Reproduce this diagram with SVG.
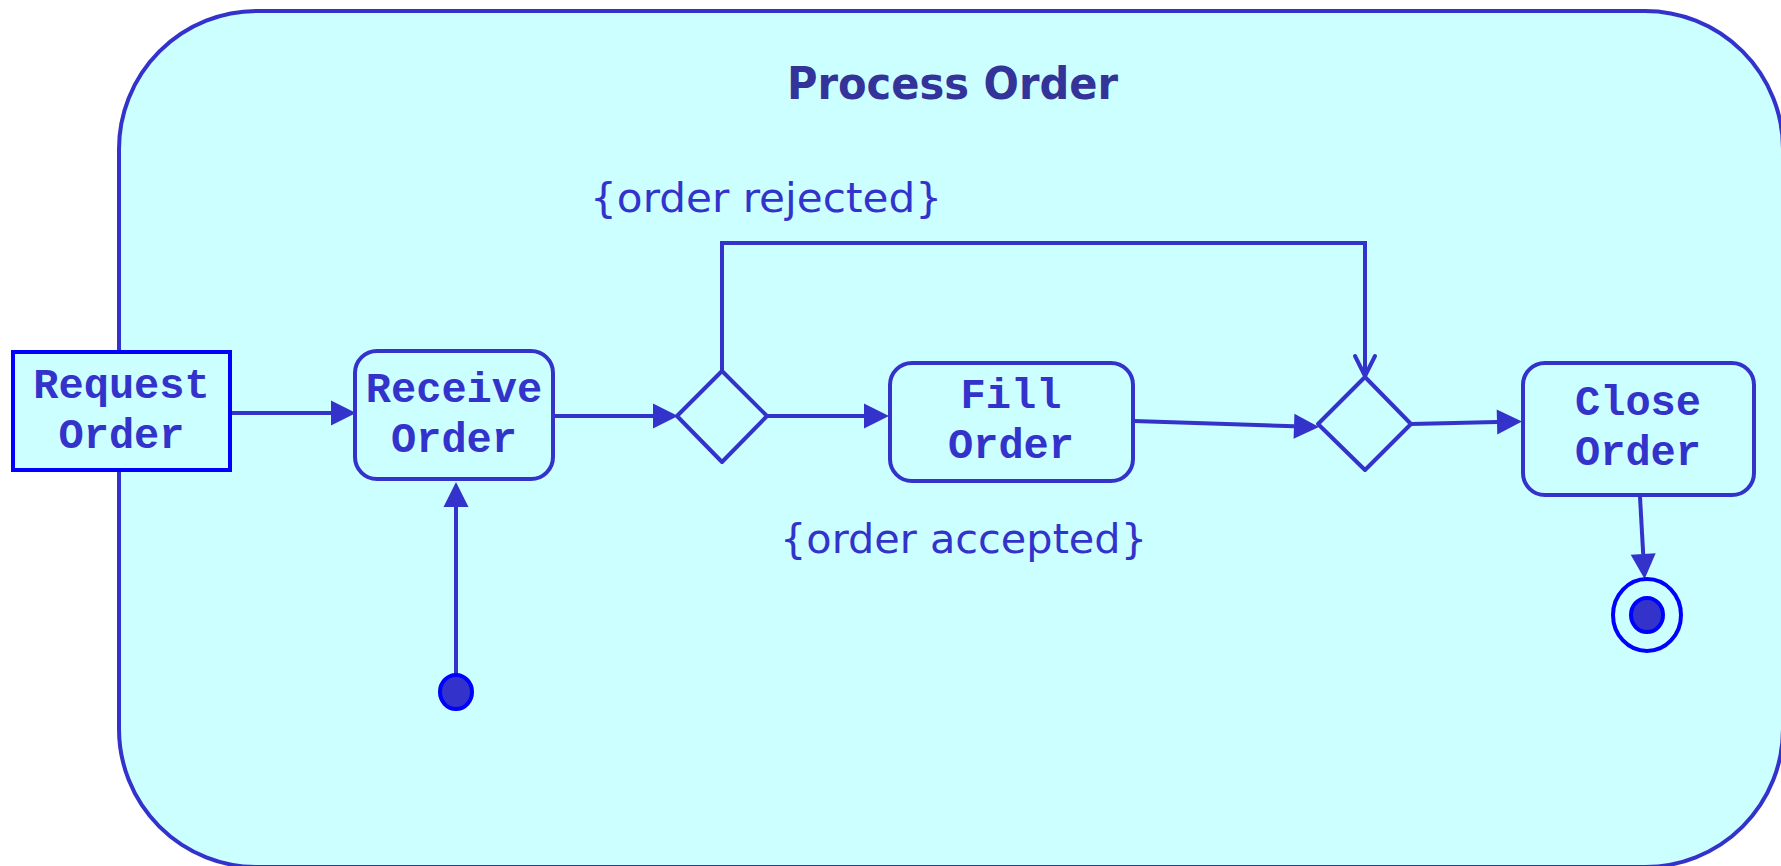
<svg xmlns="http://www.w3.org/2000/svg" width="1781" height="866" viewBox="0 0 1781 866">
<style>
.frame{fill:#CCFFFF;stroke:#3333CC;stroke-width:4}
.act{fill:#CCFFFF;stroke:#3333CC;stroke-width:4}
.obj{fill:#CCFFFF;stroke:#0000FF;stroke-width:4}
.lbl{font-family:"Liberation Mono","Courier New",monospace;font-weight:bold;font-size:42px;fill:#3333CC;text-anchor:middle}
.title{font-family:"DejaVu Sans",Verdana,sans-serif;font-weight:bold;font-size:44px;fill:#333399;text-anchor:middle}
.guard{font-family:"DejaVu Sans",Verdana,sans-serif;font-size:41px;fill:#3333CC}
.edge{fill:none;stroke:#3333CC;stroke-width:4}
.dec{fill:#CCFFFF;stroke:#3333CC;stroke-width:4;stroke-linejoin:round}
</style>
<defs>
<marker id="tri" markerUnits="userSpaceOnUse" markerWidth="26" markerHeight="26" refX="0" refY="12.5" orient="auto" overflow="visible">
<path d="M0,0 L25,12.5 L0,25 z" fill="#3333CC"/>
</marker>
<marker id="open" markerUnits="userSpaceOnUse" markerWidth="24" markerHeight="24" refX="20" refY="10" orient="auto" overflow="visible">
<path d="M0,0 L20,10 L0,20" fill="none" stroke="#3333CC" stroke-width="4" stroke-linecap="round" stroke-linejoin="round"/>
</marker>
</defs>
<g id="process-order">
<rect class="frame" x="119" y="11" width="1664" height="856" rx="138" ry="138"/>
<text class="title" x="952.5" y="99" textLength="331" lengthAdjust="spacingAndGlyphs">Process Order</text>
</g>
<g id="connectors">
<path class="edge" d="M232,413 L331,413" marker-end="url(#tri)"/>
<path class="edge" d="M456,692 L456,507" marker-end="url(#tri)"/>
<path class="edge" d="M555,416 L653,416" marker-end="url(#tri)"/>
<path class="edge" d="M767,416 L864,416" marker-end="url(#tri)"/>
<path class="edge" d="M722,371 L722,243 L1365,243 L1365,376" marker-end="url(#open)"/>
<path class="edge" d="M1134,421 L1294,426.2" marker-end="url(#tri)"/>
<path class="edge" d="M1411,424 L1497,422.1" marker-end="url(#tri)"/>
<path class="edge" d="M1640,497 L1643.2,554" marker-end="url(#tri)"/>
<text class="guard" x="590" y="212" textLength="352" lengthAdjust="spacingAndGlyphs">{order rejected}</text>
<text class="guard" x="780" y="553" textLength="367" lengthAdjust="spacingAndGlyphs">{order accepted}</text>
</g>
<g id="request-order">
<rect class="obj" x="13" y="352" width="217" height="118"/>
<text class="lbl" x="121.5" y="398">Request</text>
<text class="lbl" x="121.5" y="448">Order</text>
</g>
<g id="receive-order">
<rect class="act" x="355" y="351" width="198" height="128" rx="22" ry="22"/>
<text class="lbl" x="454" y="402">Receive</text>
<text class="lbl" x="454" y="452">Order</text>
</g>
<g id="decision-1">
<polygon class="dec" points="677,416 722,371 767,416 722,462"/>
</g>
<g id="fill-order">
<rect class="act" x="890" y="363" width="243" height="118" rx="22" ry="22"/>
<text class="lbl" x="1011" y="408">Fill</text>
<text class="lbl" x="1011" y="458">Order</text>
</g>
<g id="decision-2">
<polygon class="dec" points="1318,424 1365,377 1411,424 1365,470"/>
</g>
<g id="close-order">
<rect class="act" x="1523" y="363" width="231" height="132" rx="22" ry="22"/>
<text class="lbl" x="1638" y="415">Close</text>
<text class="lbl" x="1638" y="465">Order</text>
</g>
<g id="initial">
<ellipse cx="456" cy="692" rx="16" ry="17" fill="#3333CC" stroke="#0000FF" stroke-width="4"/>
</g>
<g id="final">
<ellipse cx="1647" cy="615" rx="34" ry="36" fill="none" stroke="#0000FF" stroke-width="4"/>
<ellipse cx="1647" cy="615" rx="16" ry="17" fill="#3333CC" stroke="#0000FF" stroke-width="4"/>
</g>
</svg>
